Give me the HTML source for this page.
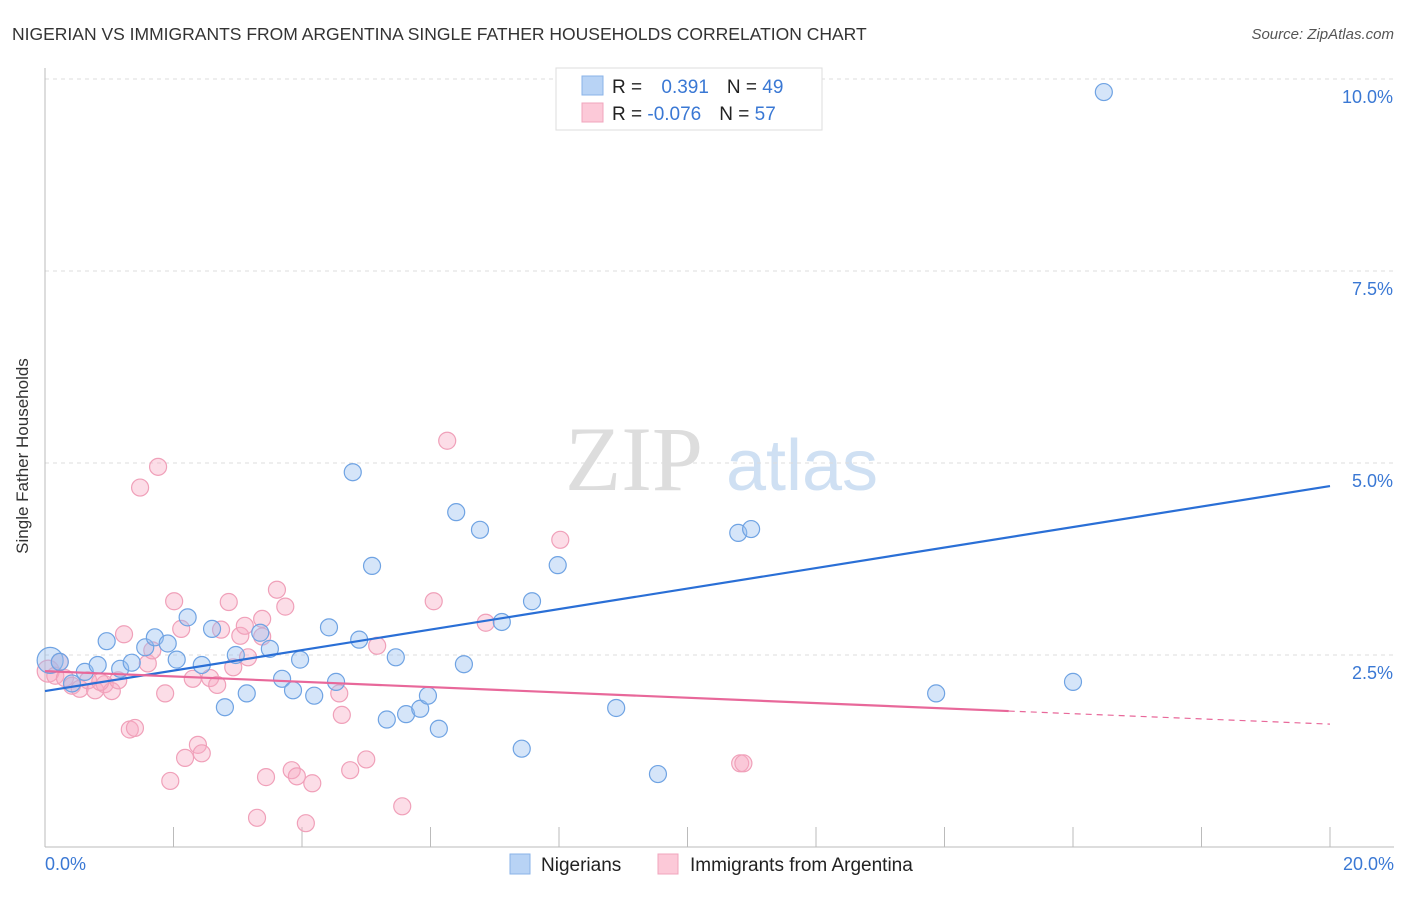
<!DOCTYPE html>
<html><head><meta charset="utf-8"><style>
body{margin:0;background:#fff;font-family:"Liberation Sans",sans-serif;}
</style></head><body>
<svg width="1406" height="892" xmlns="http://www.w3.org/2000/svg" id="svg">
<text x="12" y="40" font-size="17.5" fill="#333">NIGERIAN VS IMMIGRANTS FROM ARGENTINA SINGLE FATHER HOUSEHOLDS CORRELATION CHART</text>
<text x="1394" y="39" font-size="15" fill="#555" font-style="italic" text-anchor="end">Source: ZipAtlas.com</text>
<text x="634" y="490" font-size="92" fill="#ddd" font-family="Liberation Serif,serif" text-anchor="middle">ZIP</text>
<text x="802" y="490" font-size="72" fill="#cfe0f3" text-anchor="middle">atlas</text>
<g id="grid"></g>
<line x1="45" y1="68" x2="45" y2="847" stroke="#bbb"/>
<line x1="45" y1="847" x2="1394" y2="847" stroke="#bbb"/>
<g id="ticks"></g>
<text x="28" y="456" font-size="17" fill="#333" transform="rotate(-90 28 456)" text-anchor="middle">Single Father Households</text>
<text x="45" y="870" font-size="18" fill="#3a78d4">0.0%</text>
<text x="1394" y="870" font-size="18" fill="#3a78d4" text-anchor="end">20.0%</text>
<g id="pts"></g>
<g id="lines"></g>
<g>
<rect x="556" y="68" width="266" height="62" fill="#fff" stroke="#ddd"/>
<rect x="582" y="76" width="21" height="19" fill="#b8d3f5" stroke="#8ab3e8"/>
<rect x="582" y="103" width="21" height="19" fill="#fcc9d8" stroke="#f0a5bd"/>
<text x="612" y="93" font-size="19" fill="#222">R = <tspan fill="#3a78d4" dx="14">0.391</tspan><tspan dx="18" fill="#222">N = </tspan><tspan fill="#3a78d4">49</tspan></text>
<text x="612" y="120" font-size="19" fill="#222">R = <tspan fill="#3a78d4">-0.076</tspan><tspan dx="18" fill="#222">N = </tspan><tspan fill="#3a78d4">57</tspan></text>
</g>
<g>
<rect x="510" y="854" width="20" height="20" fill="#b8d3f5" stroke="#8ab3e8"/>
<text x="541" y="871" font-size="19" fill="#222">Nigerians</text>
<rect x="658" y="854" width="20" height="20" fill="#fcc9d8" stroke="#f0a5bd"/>
<text x="690" y="871" font-size="19" fill="#222">Immigrants from Argentina</text>
</g>
</svg>
<script>
const yTicks=[2.5,5,7.5,10];
const yTickLabels=["2.5%","5.0%","7.5%","10.0%"];
const xTicks=[0,2,4,6,8,10,12,14,16,18,20];
const blueX=[0.08,0.23,0.62,0.82,0.96,1.17,1.35,1.56,1.71,1.91,2.05,2.22,2.44,2.6,2.8,2.97,3.14,3.35,3.5,3.69,3.86,3.97,4.19,4.42,4.53,4.79,4.89,5.09,5.32,5.46,5.62,5.84,5.96,6.13,6.4,6.52,6.77,7.11,7.42,7.58,7.98,8.89,9.54,10.79,10.99,13.87,16.0,16.48,0.42];
const blueY=[2.43,2.41,2.28,2.37,2.68,2.32,2.4,2.6,2.73,2.65,2.44,2.99,2.37,2.84,1.82,2.5,2.0,2.79,2.58,2.19,2.04,2.44,1.97,2.86,2.15,4.88,2.7,3.66,1.66,2.47,1.73,1.8,1.97,1.54,4.36,2.38,4.13,2.93,1.28,3.2,3.67,1.81,0.95,4.09,4.14,2.0,2.15,9.83,2.13];
const pinkX=[0.05,0.16,0.31,0.42,0.54,0.67,0.78,0.93,1.04,1.14,1.23,1.32,1.4,1.48,1.6,1.67,1.76,1.87,1.95,2.01,2.12,2.18,2.3,2.38,2.44,2.57,2.68,2.74,2.86,2.93,3.04,3.11,3.16,3.3,3.38,3.44,3.61,3.74,3.84,3.92,4.06,4.16,4.58,4.62,4.75,5.0,5.17,5.56,6.05,6.26,6.86,8.02,10.82,10.87,3.38,0.86,0.23];
const pinkY=[2.29,2.23,2.2,2.1,2.06,2.17,2.04,2.12,2.03,2.17,2.77,1.53,1.55,4.68,2.39,2.56,4.95,2.0,0.86,3.2,2.84,1.16,2.19,1.33,1.22,2.2,2.11,2.83,3.19,2.34,2.75,2.88,2.47,0.38,2.74,0.91,3.35,3.13,1.0,0.92,0.31,0.83,2.0,1.72,1.0,1.14,2.62,0.53,3.2,5.29,2.92,4.0,1.09,1.09,2.97,2.15,2.41];
const blueTrend=[[0,2.03],[20,4.7]];
const pinkTrend=[[0,2.29],[15.0,1.77],[20,1.6]];
const NS='http://www.w3.org/2000/svg';
const sx=v=>45+v/20*1285, sy=v=>847-v/2.5*192;
function mk(t,a,p){const e=document.createElementNS(NS,t);for(const k in a)e.setAttribute(k,a[k]);p.appendChild(e);return e;}
const grid=document.getElementById('grid');
yTicks.forEach((v,i)=>{
 const l=mk('line',{x1:45,x2:1394,y1:sy(v),y2:sy(v),stroke:'#ddd','stroke-dasharray':'4,4'},grid);
 
 
 const t=mk('text',{x:1393,y:sy(v)+24,'font-size':18,fill:'#3a78d4','text-anchor':'end'},grid);
 t.textContent=yTickLabels[i];
 
 
});
const tk=document.getElementById('ticks');
xTicks.forEach(v=>{const l=mk('line',{x1:sx(v),x2:sx(v),y1:827,y2:847,stroke:'#bbb'},tk);
 
 });
const pts=document.getElementById('pts');
pinkX.forEach((x,i)=>{const c=mk('circle',{cx:sx(x),cy:sy(pinkY[i]),r:i==0?11:8.5,fill:'rgba(248,170,195,0.4)',stroke:'#f0a0b9','stroke-width':1.2},pts);
 
 });
blueX.forEach((x,i)=>{const c=mk('circle',{cx:sx(x),cy:sy(blueY[i]),r:i==0?13:8.5,fill:'rgba(150,190,240,0.4)',stroke:'#6fa3e3','stroke-width':1.2},pts);
 
 });
const ln=document.getElementById('lines');
const b=mk('line',{x1:sx(blueTrend[0][0]),y1:sy(blueTrend[0][1]),x2:sx(blueTrend[1][0]),y2:sy(blueTrend[1][1]),stroke:'#2a6fd6','stroke-width':2.2},ln);


const p1=mk('line',{x1:sx(pinkTrend[0][0]),y1:sy(pinkTrend[0][1]),x2:sx(pinkTrend[1][0]),y2:sy(pinkTrend[1][1]),stroke:'#e8689a','stroke-width':2.2},ln);


const p2=mk('line',{x1:sx(pinkTrend[1][0]),y1:sy(pinkTrend[1][1]),x2:sx(pinkTrend[2][0]),y2:sy(pinkTrend[2][1]),stroke:'#e8689a','stroke-width':1.2,'stroke-dasharray':'6,5'},ln);


</script>
</body></html>
